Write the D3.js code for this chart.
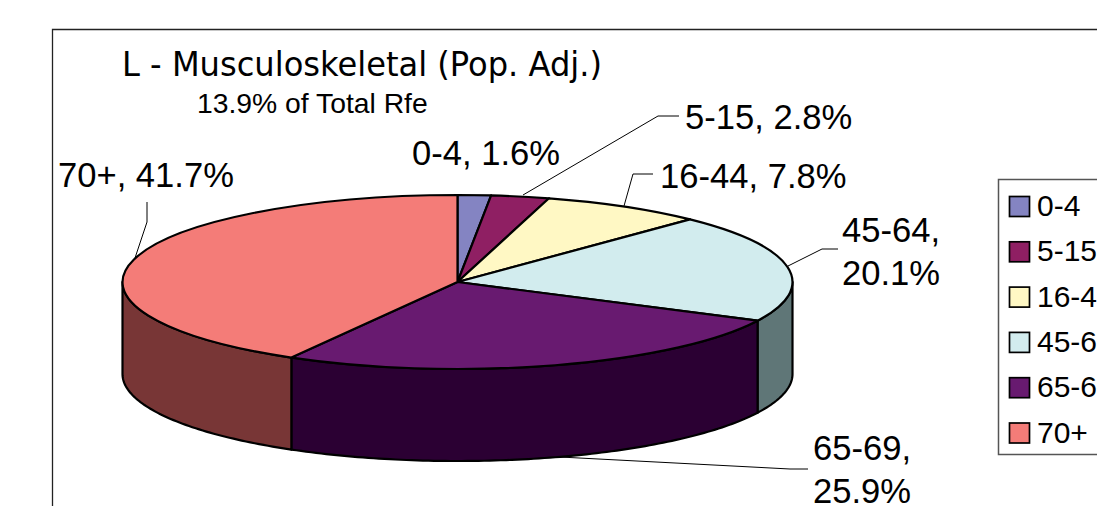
<!DOCTYPE html>
<html><head><meta charset="utf-8">
<script src="https://cdn.jsdelivr.net/npm/d3@7/dist/d3.min.js"></script>
<style>html,body{margin:0;padding:0;background:#fff;overflow:hidden}svg{display:block}text{fill:#000}</style>
</head><body><svg id="c" width="1097" height="506"></svg>
<script>
const categories = ["0-4","5-15","16-44","45-64","65-69","70+"];
const values = [1.6,2.8,7.8,20.1,25.9,41.7];
const topColors = ["#8484c2","#8f1f63","#fff8c4","#d2ecee","#681a70","#f47c78"];
const sideColors = ["#42425f","#480f32","#807c62","#5f7677","#2b0033","#783636"];
const titleText = "L - Musculoskeletal (Pop. Adj.)";
const subtitleText = "13.9% of Total Rfe";
const labelLines = [["0-4, 1.6%"],["5-15, 2.8%"],["16-44, 7.8%"],["45-64,","20.1%"],["65-69,","25.9%"],["70+, 41.7%"]];

const W=1097,H=506,cx=457.5,cy=282,rx=335,ry=87,depth=92;
const labelPos=[[412,164.5],[685,129],[660,187.5],[842,242],[813,460],[58,187]];
const leaders=[null,
 [[679,116],[658,116],[523,195]],
 [[653,174],[633,174],[624,206]],
 [[838,249],[822,249],[788,266]],
 [[808,469],[790,469],[560,457]],
 [[147,202],[147,222],[135,258]]];

const svg=d3.select("#c");
svg.append("path").attr("d",`M${W},29.5H52.5V${H}`).attr("fill","none").attr("stroke","#222").attr("stroke-width",1.3);

const pieData=d3.pie().value(d=>d).sort(null)(values);
const pt=(a,dy=0)=>[cx+rx*Math.sin(a),cy-ry*Math.cos(a)+dy];
const line=d3.line();

function sidePath(a0,a1){
  const n=Math.max(2,Math.ceil((a1-a0)*60));
  const t=d3.range(n+1).map(i=>a0+(a1-a0)*i/n);
  return line([...t.map(a=>pt(a,0)),...t.slice().reverse().map(a=>pt(a,depth))])+"Z";
}
const g=svg.append("g");
pieData.forEach((d,i)=>{
  const a0=Math.max(d.startAngle,Math.PI/2),a1=Math.min(d.endAngle,1.5*Math.PI);
  if(a1>a0) g.append("path").attr("d",sidePath(a0,a1)).attr("fill",sideColors[i])
    .attr("stroke","#000").attr("stroke-width",2.2).attr("stroke-linejoin","round");
});
const arc=d3.arc().innerRadius(0).outerRadius(rx);
const topFace=g.append("g").attr("transform",`translate(${cx},${cy}) scale(1,${ry/rx})`);
topFace.selectAll("path").data(pieData).join("path").attr("d",arc)
  .attr("fill",(d,i)=>topColors[i]).attr("stroke","#000").attr("stroke-width",2.2)
  .attr("stroke-linejoin","round").attr("vector-effect","non-scaling-stroke");

leaders.forEach(l=>{if(l) svg.append("path").attr("d",line(l)).attr("fill","none").attr("stroke","#000").attr("stroke-width",1);});

const sans="'Liberation Sans',Arial,sans-serif";
svg.append("text").attr("x",122).attr("y",76).attr("font-family","'DejaVu Sans',sans-serif").attr("font-size",33).text(titleText).attr("textLength",480).attr("lengthAdjust","spacingAndGlyphs");
svg.append("text").attr("x",197).attr("y",113).attr("font-family",sans).attr("font-size",28.3).text(subtitleText);

labelLines.forEach((ls,i)=>{
  ls.forEach((s,j)=>svg.append("text").attr("x",labelPos[i][0]).attr("y",labelPos[i][1]+j*42.5)
    .attr("font-family",sans).attr("font-size",34.6).text(s));
});

const lg=svg.append("g");
lg.append("path").attr("d",`M${W},179.5H998.5V454.5H${W}`).attr("fill","#fff").attr("stroke","#555").attr("stroke-width",1.5);
const ly=d3.scalePoint().domain(categories).range([206.5,433]);
categories.forEach((c,i)=>{
  const y=ly(c);
  lg.append("rect").attr("x",1009.5).attr("y",y-10).attr("width",20).attr("height",20)
    .attr("fill",topColors[i]).attr("stroke","#000").attr("stroke-width",1.7);
  lg.append("text").attr("x",1037).attr("y",y+9.5).attr("font-family",sans).attr("font-size",30).text(c);
});
</script></body></html>
